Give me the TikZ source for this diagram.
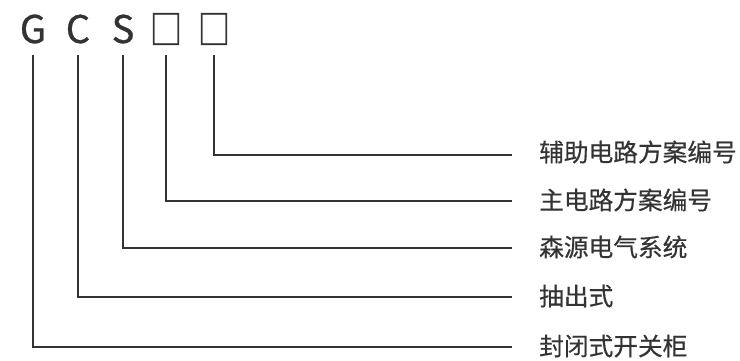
\documentclass[tikz,border=0pt]{standalone}
\usepackage{fontspec}
\setmainfont{Noto Sans CJK SC}
\newfontfamily\medfont[FakeBold=0.8]{Noto Sans CJK SC}
\newfontfamily\lblfont[FakeBold=0.4]{Noto Sans CJK SC}
\definecolor{ink}{HTML}{333333}
\begin{document}
\begin{tikzpicture}[x=1pt,y=-1pt,
  code/.style={font=\medfont\fontsize{38}{40}\selectfont, text=ink, inner sep=0pt, anchor=center},
  lbl/.style={font=\lblfont\fontsize{24.7}{28}\selectfont, text=ink, inner sep=0pt, anchor=west},
  conn/.style={draw=ink, line width=1.8pt}]
\useasboundingbox (0,0) rectangle (740,361);
\node[code] (g) at (33,29) {G};
\node[code] (c) at (78,29) {C};
\node[code] (s) at (123,29) {S};
\node[code] (b1) at (166,29) {\scalebox{0.85}[1.05]{□}};
\node[code] (b2) at (214,29) {\scalebox{0.85}[1.05]{□}};
\node[lbl] (t5) at (539,152) {辅助电路方案编号};
\node[lbl] (t4) at (539,200) {主电路方案编号};
\node[lbl] (t3) at (539,247) {森源电气系统};
\node[lbl] (t2) at (539,296) {抽出式};
\node[lbl] (t1) at (539,346) {封闭式开关柜};
\coordinate (e5) at (512,155);
\coordinate (e4) at (512,201);
\coordinate (e3) at (512,248);
\coordinate (e2) at (512,297);
\coordinate (e1) at (512,347);
\draw[conn] (214,55) |- (e5);
\draw[conn] (166,55) |- (e4);
\draw[conn] (123,55) |- (e3);
\draw[conn] (78,55) |- (e2);
\draw[conn] (33,55) |- (e1);
\end{tikzpicture}
\end{document}
